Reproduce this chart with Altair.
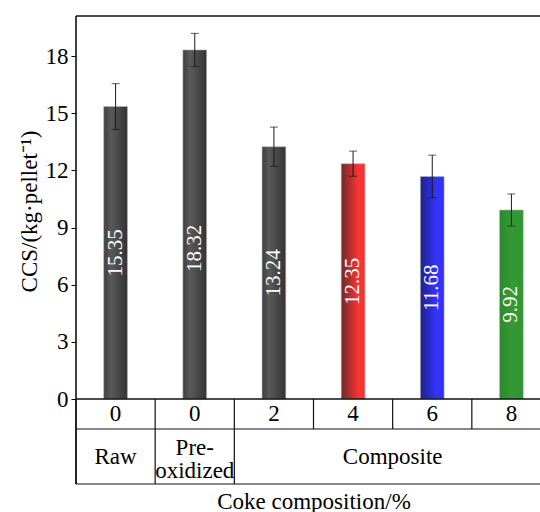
import altair as alt
import pandas as pd

# Compressive strength of pellets by coke composition
tick_labels = ["0", "0", "2", "4", "6", "8"]
ccs = [15.35, 18.32, 13.24, 12.35, 11.68, 9.92]
ccs_err = [1.20, 0.87, 1.03, 0.66, 1.12, 0.84]
bar_shade = ["gray", "gray", "gray", "red", "blue", "green"]
groups = ["Raw", "Pre-\noxidized", "Composite"]
group_span = [1, 1, 4]

# Layout of the frame and of the category table under the axis (data units)
Y_TOP = 20.1
ROW1 = -1.574
ROW2 = -4.46
LABEL_MAX = 7.9  # value labels sit at half height, but no higher than this
N = len(tick_labels)
FONT = "'Liberation Serif', 'Times New Roman', Times, serif"

shade_stops = {
    "gray": [("#3e3e3e", 0.0), ("#5a5a5a", 0.3), ("#333333", 1.0)],
    "red": [("#6e2a2a", 0.0), ("#ff3434", 0.75), ("#f23030", 1.0)],
    "blue": [("#20208c", 0.0), ("#3434ff", 0.7), ("#3030f2", 1.0)],
    "green": [("#2b8a2b", 0.0), ("#349a34", 0.5), ("#319431", 1.0)],
}

bars = pd.DataFrame({
    "idx": list(range(N)),
    "tick": tick_labels,
    "ccs": ccs,
    "err": ccs_err,
    "shade": bar_shade,
})

starts = [sum(group_span[:i]) for i in range(len(groups))]
grp = pd.DataFrame({
    "group": groups,
    "start": starts,
    "end": [s + n for s, n in zip(starts, group_span)],
})
grp["lines"] = grp["group"].str.count("\n") + 1

frame = pd.DataFrame([
    {"x": 0, "x2": N, "y": Y_TOP, "y2": Y_TOP},
    {"x": 0, "x2": N, "y": 0, "y2": 0},
    {"x": 0, "x2": 0, "y": ROW2, "y2": Y_TOP},
])
table_lines = [
    {"x": 0, "x2": N, "y": ROW1, "y2": ROW1},
    {"x": 0, "x2": N, "y": ROW2, "y2": ROW2},
]
table_lines += [{"x": i, "x2": i, "y": 0, "y2": ROW1} for i in range(N + 1)]
bounds = sorted(set(starts + [N]))
table_lines += [{"x": b, "x2": b, "y": ROW1, "y2": ROW2} for b in bounds]
table = pd.DataFrame(table_lines)

xs = alt.Scale(domain=[0, N], range=[0, 475])
ys = alt.Scale(domain=[ROW2, Y_TOP], nice=False, zero=False)

y_axis = alt.Axis(
    values=[0, 3, 6, 9, 12, 15, 18], domain=False, grid=False,
    tickSize=5, tickColor="black", tickWidth=1,
    labelFont=FONT, labelFontSize=23, labelColor="black", labelPadding=3,
    title="CCS/(kg·pellet⁻¹)", titleFont=FONT, titleFontSize=23,
    titleFontWeight="normal", titleColor="black", titleAngle=270,
    titleAlign="center", titleBaseline="alphabetic", titleX=-40, titleY=195,
)
x_axis = alt.Axis(
    labels=False, ticks=False, domain=False, grid=False,
    title="Coke composition/%", titleFont=FONT, titleFontSize=23,
    titleFontWeight="normal", titleColor="black",
    titleBaseline="alphabetic", titleY=24,
)


def X(field):
    return alt.X(field, type="quantitative", scale=xs, axis=x_axis)


def Y(field):
    return alt.Y(field, type="quantitative", scale=ys, axis=y_axis)


frame_layer = alt.Chart(frame).mark_rule(color="#111111", strokeWidth=1.6).encode(
    x=X("x"), x2="x2", y=Y("y"), y2="y2")
table_layer = alt.Chart(table).mark_rule(color="#111111", strokeWidth=1.2).encode(
    x=X("x"), x2="x2", y=Y("y"), y2="y2")

base = alt.Chart(bars).transform_calculate(
    left="datum.idx + 0.35", right="datum.idx + 0.65", mid="datum.idx + 0.5",
    lo="datum.ccs - datum.err", hi="datum.ccs + datum.err",
    half=f"min(datum.ccs / 2, {LABEL_MAX})",
    row=f"{ROW1 / 2}",
)

bar_layers = []
for shade, stops in shade_stops.items():
    grad = alt.Gradient(
        gradient="linear",
        stops=[alt.GradientStop(color=c, offset=o) for c, o in stops],
        x1=0, x2=1, y1=0, y2=0,
    )
    bar_layers.append(
        base.transform_filter(alt.datum.shade == shade)
        .mark_bar(color=grad, stroke="#b8b8b8", strokeWidth=0.6)
        .encode(x=X("left:Q"), x2="right:Q", y=Y("ccs:Q"), y2=alt.datum(0))
    )

err_rule = base.mark_rule(color="#1a1a1a", strokeWidth=1).encode(
    x=X("mid:Q"), y=Y("lo:Q"), y2="hi:Q")
cap_lo = base.mark_tick(color="#1a1a1a", orient="horizontal", size=8, thickness=1).encode(
    x=X("mid:Q"), y=Y("lo:Q"))
cap_hi = base.mark_tick(color="#1a1a1a", orient="horizontal", size=8, thickness=1).encode(
    x=X("mid:Q"), y=Y("hi:Q"))

value_labels = base.mark_text(
    angle=270, color="white", font=FONT, fontSize=21, align="center", baseline="middle"
).encode(x=X("mid:Q"), y=Y("half:Q"), text=alt.Text("ccs:Q", format=".2f"))

tick_row = base.mark_text(
    color="black", font=FONT, fontSize=23, align="center", baseline="middle"
).encode(x=X("mid:Q"), y=Y("row:Q"), text="tick:N")

group_base = alt.Chart(grp).transform_calculate(
    mid="(datum.start + datum.end) / 2", row=f"{(ROW1 + ROW2) / 2}"
)
group_single = group_base.transform_filter(alt.datum.lines == 1).mark_text(
    color="black", font=FONT, fontSize=23, align="center", baseline="middle",
).encode(x=X("mid:Q"), y=Y("row:Q"), text="group:N")
group_multi = group_base.transform_filter(alt.datum.lines > 1).mark_text(
    color="black", font=FONT, fontSize=23, align="center", baseline="middle",
    lineBreak="\n", lineHeight=23, dy=-9,
).encode(x=X("mid:Q"), y=Y("row:Q"), text="group:N")

chart = alt.layer(
    *bar_layers, err_rule, cap_lo, cap_hi, value_labels,
    frame_layer, table_layer, tick_row, group_single, group_multi,
).properties(
    width=464, height=468,
    autosize=alt.AutoSizeParams(type="none"),
    padding={"left": 76, "top": 16, "right": 0, "bottom": 28},
    background="white",
).configure_view(stroke=None)

chart.save("out.html", embed_options={"renderer": "svg", "actions": False})
